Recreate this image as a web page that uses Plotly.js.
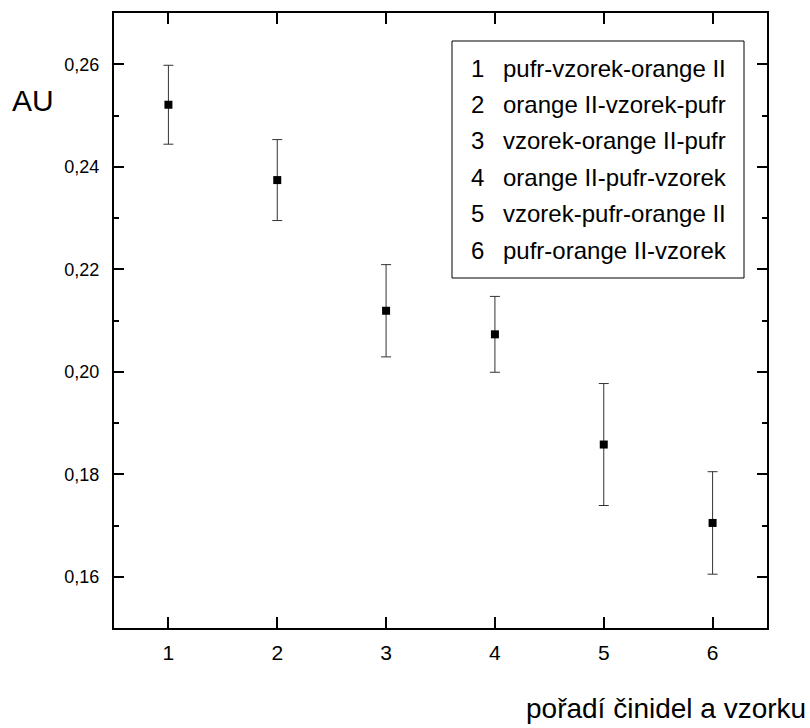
<!DOCTYPE html>
<html>
<head>
<meta charset="utf-8">
<script src="https://cdn.plot.ly/plotly-3.0.1.min.js"></script>
<style>html,body{margin:0;padding:0;background:#fff;}#chart{width:810px;height:728px;}</style>
</head>
<body>
<div id="chart"></div>
<script>
// Data
const categories = [1, 2, 3, 4, 5, 6];
const values = [0.2521, 0.2374, 0.2119, 0.2073, 0.1858, 0.1705];
const errors = [0.0077, 0.0079, 0.0090, 0.0074, 0.0119, 0.0100];
const legendNumbers = ['1', '2', '3', '4', '5', '6'];
const legendLabels = [
  'pufr-vzorek-orange II',
  'orange II-vzorek-pufr',
  'vzorek-orange II-pufr',
  'orange II-pufr-vzorek',
  'vzorek-pufr-orange II',
  'pufr-orange II-vzorek'
];
const xTitle = 'pořadí činidel a vzorku';
const yTitle = 'AU';

const FONT = 'Liberation Sans, Arial, sans-serif';

const trace = {
  type: 'scatter',
  mode: 'markers',
  x: categories,
  y: values,
  marker: {symbol: 'square', size: 8, color: '#000'},
  error_y: {type: 'data', array: errors, visible: true, color: '#333', thickness: 1, width: 5},
  showlegend: false,
  hoverinfo: 'x+y'
};

// layout geometry of the plot area in pixels
const W = 810, H = 728, L = 114, R = 43, T = 13, B = 100;
const pw = W - L - R, ph = H - T - B;
const px = v => (v - L) / pw;
const py = v => (H - B - v) / ph;

const annotations = [];
const rowTop = 68, rowStep = 36.4;
legendNumbers.forEach((n, i) => {
  const yy = py(rowTop + i * rowStep);
  annotations.push({xref: 'paper', yref: 'paper', x: px(477), y: yy, text: n,
    showarrow: false, xanchor: 'center', yanchor: 'middle',
    font: {family: FONT, size: 24, color: '#000'}});
  annotations.push({xref: 'paper', yref: 'paper', x: px(501), y: yy, text: legendLabels[i],
    showarrow: false, xanchor: 'left', yanchor: 'middle',
    font: {family: FONT, size: 24, color: '#000'}});
});
annotations.push({xref: 'paper', yref: 'paper', x: px(10), y: py(101), text: yTitle,
  showarrow: false, xanchor: 'left', yanchor: 'middle',
  font: {family: FONT, size: 30, color: '#000'}});
annotations.push({xref: 'paper', yref: 'paper', x: px(808), y: py(708), text: xTitle,
  showarrow: false, xanchor: 'right', yanchor: 'middle',
  font: {family: FONT, size: 28, color: '#000'}});

const layout = {
  width: W, height: H,
  margin: {l: L, r: R, t: T, b: B, pad: 0},
  paper_bgcolor: '#fff', plot_bgcolor: '#fff',
  separators: ', ',
  font: {family: FONT, color: '#000'},
  xaxis: {
    range: [0.5, 6.5], tickmode: 'array', tickvals: categories, ticktext: categories.map(String),
    ticks: 'inside', ticklen: 11, tickwidth: 2, tickcolor: '#000',
    showline: true, linewidth: 2, linecolor: '#000', mirror: 'allticks',
    showgrid: false, zeroline: false,
    tickfont: {family: FONT, size: 21, color: '#000'},
    ticklabelstandoff: 5
  },
  yaxis: {
    range: [0.15, 0.27], tick0: 0.16, dtick: 0.02, tickformat: '.2f',
    ticks: 'inside', ticklen: 10, tickwidth: 2, tickcolor: '#000',
    minor: {dtick: 0.01, ticks: 'inside', ticklen: 5, tickwidth: 2, tickcolor: '#000', showgrid: false},
    showline: true, linewidth: 2, linecolor: '#000', mirror: 'allticks',
    showgrid: false, zeroline: false,
    tickfont: {family: FONT, size: 18, color: '#000'},
    ticklabelstandoff: 9
  },
  shapes: [{type: 'rect', xref: 'paper', yref: 'paper',
    x0: px(452), x1: px(744), y0: py(278), y1: py(41),
    line: {color: '#000', width: 1}, fillcolor: 'rgba(0,0,0,0)'}],
  annotations: annotations
};

Plotly.newPlot('chart', [trace], layout, {displayModeBar: false, staticPlot: true});
</script>
</body>
</html>
